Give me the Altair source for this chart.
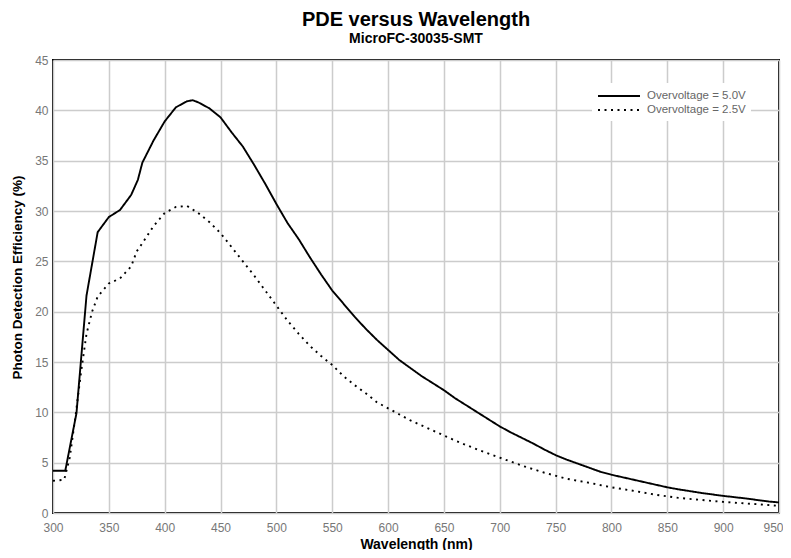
import altair as alt
import pandas as pd

# Overvoltage = 5.0V (solid)
wl_5v = [300, 311, 321, 330, 340, 350, 360, 370, 376, 380, 390, 400, 410, 420, 425, 430, 440, 450,
         460, 470, 480, 490, 500, 510, 520, 530, 540, 550, 560, 570, 580, 590, 600, 610, 620, 630,
         640, 650, 660, 670, 680, 690, 700, 710, 720, 730, 740, 750, 760, 770, 780, 790, 800, 820,
         840, 850, 860, 880, 900, 920, 940, 950]
pde_5v = [4.2, 4.2, 9.9, 21.6, 27.9, 29.4, 30.1, 31.6, 33.1, 34.8, 37.0, 38.9, 40.3, 40.9, 41.0, 40.8, 40.2, 39.3,
          37.8, 36.4, 34.6, 32.7, 30.7, 28.8, 27.2, 25.4, 23.7, 22.1, 20.8, 19.5, 18.3, 17.2, 16.2, 15.2, 14.4, 13.6,
          12.9, 12.2, 11.4, 10.7, 10.0, 9.3, 8.6, 8.0, 7.45, 6.9, 6.3, 5.75, 5.3, 4.9, 4.5, 4.1, 3.8, 3.3,
          2.8, 2.55, 2.35, 2.0, 1.7, 1.45, 1.15, 1.05]

# Overvoltage = 2.5V (dotted)
wl_25v = [300, 310, 315, 320, 325, 330, 335, 340, 350, 360, 365, 370, 375, 380, 390, 400, 410, 420, 430,
          440, 450, 460, 470, 480, 490, 500, 510, 520, 530, 540, 550, 560, 570, 580, 590, 600, 620, 640,
          660, 680, 700, 720, 740, 760, 780, 800, 820, 840, 860, 880, 900, 920, 940, 950]
pde_25v = [3.2, 3.3, 5.5, 9.5, 13.9, 17.8, 20.0, 21.5, 22.8, 23.3, 23.9, 24.5, 26.0, 26.8, 28.5, 29.8, 30.4, 30.5, 29.8,
           28.9, 27.8, 26.4, 25.0, 23.6, 22.1, 20.6, 19.1, 17.8, 16.6, 15.6, 14.7, 13.6, 12.7, 11.9, 11.0, 10.4, 9.2, 8.2,
           7.2, 6.3, 5.5, 4.7, 4.0, 3.4, 3.0, 2.55, 2.2, 1.8, 1.5, 1.3, 1.1, 0.95, 0.8, 0.7]

series_names = ["Overvoltage = 5.0V", "Overvoltage = 2.5V"]
x_ticks = list(range(300, 951, 50))
y_ticks = list(range(0, 46, 5))

df = pd.concat([
    pd.DataFrame({"wl": wl_5v, "pde": pde_5v, "series": series_names[0]}),
    pd.DataFrame({"wl": wl_25v, "pde": pde_25v, "series": series_names[1]}),
])

chart = alt.Chart(df).mark_line(color="black", strokeWidth=1.9).encode(
    x=alt.X("wl:Q", title="Wavelength (nm)",
            scale=alt.Scale(domain=[300, 950], nice=False, zero=False),
            axis=alt.Axis(values=x_ticks, grid=True, labelFlush=False,
                          labelOffset=alt.expr("datum.value == 950 ? -6 : 0"))),
    y=alt.Y("pde:Q", title="Photon Detection Efficiency (%)",
            scale=alt.Scale(domain=[0, 45], nice=False),
            axis=alt.Axis(values=y_ticks, grid=True, labelFlush=False, titleY=217)),
    strokeDash=alt.StrokeDash("series:N",
        scale=alt.Scale(domain=series_names, range=[[1, 0], [2, 4.5]]),
        legend=alt.Legend(title=None, orient="none", legendX=539, legendY=23,
                          fillColor="white", padding=5, symbolType="M-1,0L5,0",
                          symbolStrokeColor="black", symbolStrokeWidth=2, symbolSize=196,
                          labelOffset=34, labelColor="#666666", labelFontSize=11.5,
                          labelFont="Liberation Sans", rowPadding=-1)),
    order=alt.Order("wl:Q"),
).properties(
    width=726, height=453,
    autosize=alt.AutoSizeParams(type="none"),
    padding={"left": 45, "top": 52, "right": 4, "bottom": 37},
    title=alt.TitleParams(
        text="PDE versus Wavelength", subtitle="MicroFC-30035-SMT",
        font="Liberation Sans", fontSize=20, fontWeight="bold", color="black",
        subtitleFont="Liberation Sans", subtitleFontSize=14, subtitleFontWeight="bold",
        subtitleColor="black", anchor="middle", offset=8.5, subtitlePadding=2,
    ),
).configure_view(
    stroke="black", strokeWidth=2
).configure_axis(
    gridColor="#cccccc", gridWidth=1.5, domain=False, ticks=False,
    labelColor="#777777", labelFont="Liberation Sans", labelFontSize=12,
    titleFont="Liberation Sans", titleFontSize=13.5, titleFontWeight="bold", titleColor="black",
).configure_axisX(labelPadding=9, titlePadding=4, titleFontSize=14).configure_axisY(labelPadding=5, titlePadding=10)

chart.save("out.html", embed_options={"renderer": "svg", "actions": False})
